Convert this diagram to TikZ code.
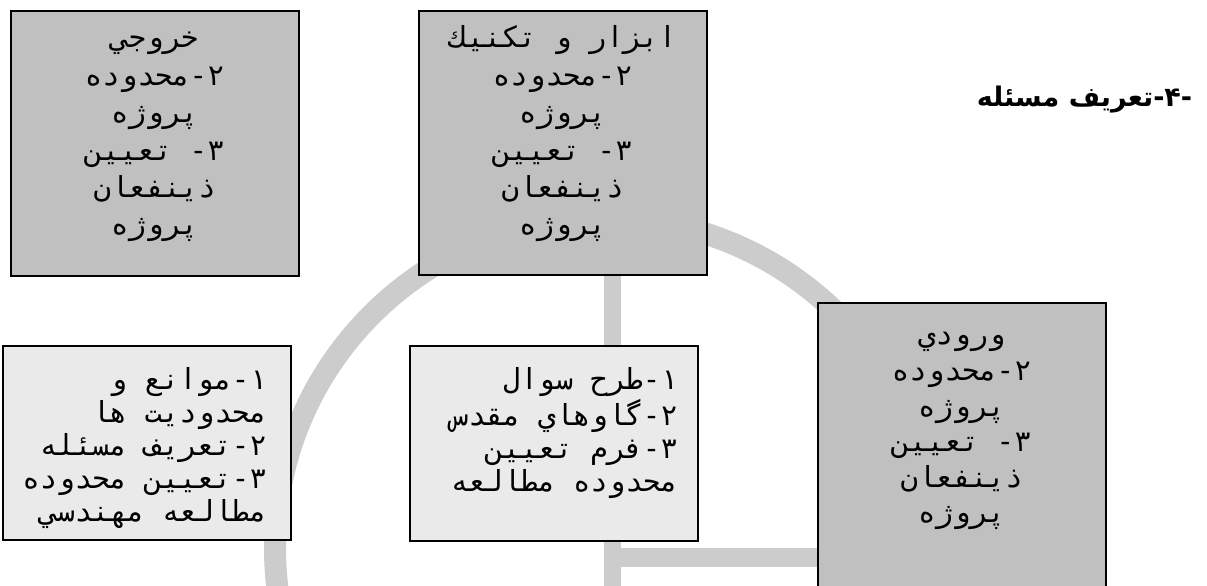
\documentclass[tikz,border=0pt]{standalone}
\usepackage{fontspec}
\setmainfont{DejaVu Sans}
\newfontfamily\monofa[Script=Arabic]{DejaVu Sans Mono}
\newfontfamily\titlefa[Script=Arabic]{DejaVu Sans}
\TeXXeTstate=1
\usepackage{xcolor}
\usetikzlibrary{positioning}
\definecolor{cardgray}{HTML}{C0C0C0}
\definecolor{notegray}{HTML}{EAEAEA}
\definecolor{markgray}{HTML}{CCCCCC}
\newcommand{\rl}[1]{\beginR #1\endR}
\newcommand{\firstrl}[1]{\rule{0pt}{12pt}\beginR #1\endR}

\begin{document}
\begin{tikzpicture}
[x=0.5pt, y=-0.5pt, line width=0.8pt, card/.style={draw=black, fill=cardgray, rectangle, anchor=north west, inner sep=0pt, minimum width=144pt},
note/.style={card, fill=notegray}]
% Define styles for the texts
\tikzstyle{cardtext} = [font=\monofa\fontsize{14.5}{18.7}\selectfont, align=center, inner sep=0pt, anchor=north]
\tikzstyle{notetext} = [cardtext, font=\monofa\fontsize{14.5}{16.5}\selectfont, align=right, anchor=north east]

\useasboundingbox (0,0) rectangle (1207,585);
\clip (0,0) rectangle (1207,585);

% Watermark in the background
\draw[draw=markgray, line width=11pt] (605,548) circle[radius=330];
\draw[draw=markgray, line width=8.5pt] (612,270) -- (612,600);
\draw[draw=markgray, line width=9.5pt] (612,557) -- (820,557);

% Boxes placement
\node [card, minimum height=132.5pt] (output) at (10,10) {};
\node [card, minimum height=132pt] (tools) at (418,10) {};
\node [card, minimum height=160pt] (input) at (817,302) {};
\node [note, minimum height=97pt] (limits) at (2,345) {};
\node [note, minimum height=97.5pt] (question) at (409,345) {};

% Texts of the boxes
\node [cardtext, below=6.5pt of output.north] (outputtext)
  {\firstrl{خروجي}\\ \rl{۲-محدوده}\\ \rl{پروژه}\\ \rl{۳- تعيين}\\ \rl{ذينفعان}\\ \rl{پروژه}};
\node [cardtext, below=6.5pt of tools.north] (toolstext)
  {\firstrl{ابزار و تكنيك}\\ \rl{۲-محدوده}\\ \rl{پروژه}\\ \rl{۳- تعيين}\\ \rl{ذينفعان}\\ \rl{پروژه}};
\node [cardtext, font=\monofa\fontsize{14.5}{17.8}\selectfont, below=9pt of input.north] (inputtext)
  {\firstrl{ورودي}\\ \rl{۲-محدوده}\\ \rl{پروژه}\\ \rl{۳- تعيين}\\ \rl{ذينفعان}\\ \rl{پروژه}};
\node [notetext, below left=10pt and 12pt of limits.north east] (limitstext)
  {\firstrl{۱-موانع و}\\ \rl{محدوديت ها}\\ \rl{۲-تعريف مسئله}\\ \rl{۳-تعيين محدوده}\\ \rl{مطالعه مهندسي}};
\node [notetext, below left=10pt and 10pt of question.north east] (questiontext)
  {\firstrl{۱-طرح سوال}\\ \rl{۲-گاوهاي مقدس}\\ \rl{۳-فرم تعيين}\\ \rl{محدوده مطالعه}};

% Heading
\node [font=\titlefa\bfseries\fontsize{13.5}{15}\selectfont, anchor=east, inner sep=0pt] (heading) at (1193,100) {\rl{-۴-تعريف مسئله}};
\end{tikzpicture}
\end{document}
